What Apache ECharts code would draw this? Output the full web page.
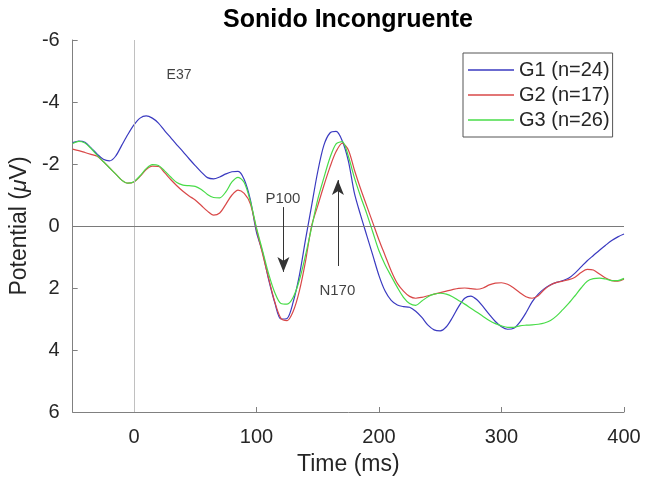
<!DOCTYPE html>
<html>
<head>
<meta charset="utf-8">
<script src="https://cdn.jsdelivr.net/npm/echarts@6/dist/echarts.min.js"></script>
<style>html,body{margin:0;padding:0;background:#fff}#c{width:648px;height:487px}</style>
</head>
<body>
<div id="c"></div>
<script>
// ---- data ----
const times = [-50,-45,-40,-35,-30,-25,-20,-15,-10,-5,
  0,5,10,15,20,25,30,35,40,45,
  50,55,60,65,70,75,80,85,90,95,
  100,105,110,115,120,125,130,135,140,145,
  150,155,160,165,170,175,180,185,190,195,
  200,205,210,215,220,225,230,235,240,245,
  250,255,260,265,270,275,280,285,290,295,
  300,305,310,315,320,325,330,335,340,345,
  350,355,360,365,370,375,380,385,390,395,
  400];
const g1 = [-2.69,-2.74,-2.70,-2.52,-2.32,-2.15,-2.10,-2.25,-2.60,-2.95,
  -3.26,-3.48,-3.55,-3.48,-3.32,-3.08,-2.85,-2.62,-2.40,-2.17,
  -1.95,-1.74,-1.56,-1.52,-1.58,-1.68,-1.75,-1.76,-1.50,-0.85,
  0.20,0.85,1.74,2.48,3.00,2.98,2.45,1.60,0.45,-0.65,
  -1.75,-2.60,-3.00,-3.05,-2.75,-2.10,-1.05,-0.35,0.30,0.95,
  1.60,2.10,2.40,2.55,2.60,2.62,2.75,2.95,3.20,3.35,
  3.38,3.25,2.95,2.60,2.33,2.26,2.38,2.60,2.85,3.08,
  3.25,3.33,3.30,3.10,2.80,2.45,2.20,2.02,1.90,1.82,
  1.76,1.68,1.52,1.32,1.12,0.95,0.78,0.62,0.47,0.35,
  0.26];
const g2 = [-2.48,-2.43,-2.37,-2.31,-2.25,-2.08,-1.88,-1.68,-1.48,-1.38,
  -1.42,-1.60,-1.82,-1.93,-1.92,-1.72,-1.50,-1.30,-1.12,-0.97,
  -0.84,-0.66,-0.48,-0.35,-0.42,-0.70,-1.00,-1.16,-1.05,-0.72,
  0.10,0.90,1.70,2.45,2.98,3.05,2.75,2.10,1.15,0.00,
  -0.65,-1.30,-1.90,-2.40,-2.67,-2.45,-1.80,-1.20,-0.65,-0.10,
  0.45,0.95,1.45,1.85,2.10,2.27,2.33,2.30,2.25,2.20,
  2.15,2.10,2.05,2.01,2.00,2.02,2.04,2.00,1.90,1.84,
  1.83,1.88,2.00,2.15,2.28,2.33,2.25,2.05,1.90,1.82,
  1.78,1.73,1.65,1.50,1.40,1.42,1.55,1.68,1.76,1.78,
  1.72];
const g3 = [-2.66,-2.73,-2.68,-2.50,-2.28,-2.08,-1.88,-1.68,-1.48,-1.38,
  -1.43,-1.62,-1.85,-1.98,-1.95,-1.78,-1.58,-1.40,-1.32,-1.30,
  -1.28,-1.18,-1.02,-0.92,-0.91,-1.10,-1.42,-1.57,-1.40,-0.80,
  0.05,0.80,1.55,2.15,2.50,2.52,2.30,1.75,0.95,0.05,
  -0.85,-1.55,-2.20,-2.65,-2.72,-2.25,-1.55,-0.95,-0.40,0.20,
  0.80,1.25,1.62,1.98,2.30,2.50,2.56,2.42,2.28,2.20,
  2.17,2.20,2.28,2.40,2.52,2.65,2.78,2.92,3.05,3.15,
  3.22,3.27,3.27,3.22,3.20,3.19,3.17,3.13,3.05,2.90,
  2.70,2.49,2.25,2.00,1.78,1.70,1.68,1.71,1.76,1.76,
  1.69];
const seriesNames = ['G1 (n=24)', 'G2 (n=17)', 'G3 (n=26)'];
const seriesValues = [g1, g2, g3];
const yTicks = [-6, -4, -2, 0, 2, 4, 6];
// annotations (data coordinates)
const noteTexts = ['E37', 'P100', 'N170'];
const noteX = [36.8, 121.6, 166.0];
const noteY = [-4.86, -0.87, 2.10];
const arrowX = [122, 166.5];
const arrowFrom = [-0.61, 1.29];
const arrowTo = [1.48, -1.48];

// ---- styles ----
const FONT = '"Liberation Sans", Arial, Helvetica, sans-serif';
const colors = ['#3a3ac0', '#d94848', '#48dc48'];
const textColor = '#262626';
const axisColor = '#808080';

const chart = echarts.init(document.getElementById('c'), null, {renderer: 'canvas'});

const lineSeries = seriesValues.map((vals, i) => ({
  type: 'line',
  name: seriesNames[i],
  data: times.map((t, j) => [t, vals[j]]),
  symbol: 'none',
  showSymbol: false,
  smooth: 0.3,
  lineStyle: {width: 1.2, color: colors[i]},
  itemStyle: {color: colors[i]},
  z: 3,
  animation: false
}));

lineSeries[0].markLine = {
  silent: true,
  symbol: ['none', 'none'],
  label: {show: false},
  animation: false,
  data: [
    {xAxis: 0, lineStyle: {color: '#c0c0c0', width: 1, type: 'solid'}},
    {yAxis: 0, lineStyle: {color: '#7a7a7a', width: 1.2, type: 'solid'}}
  ]
};

const noteSeries = {
  type: 'scatter',
  name: 'notes',
  silent: true,
  symbolSize: 0,
  animation: false,
  z: 5,
  data: noteTexts.map((txt, i) => ({
    value: [noteX[i], noteY[i]],
    label: {
      show: true, position: 'inside', formatter: txt,
      fontSize: i === 0 ? 14 : 15, color: '#111', fontFamily: FONT
    }
  })),
  markLine: {
    silent: true,
    animation: false,
    symbol: ['none', 'arrow'],
    symbolSize: [9, 15],
    label: {show: false},
    lineStyle: {color: '#333', width: 1, type: 'solid'},
    itemStyle: {color: '#111'},
    data: arrowX.map((x, i) => [
      {coord: [x, arrowFrom[i]]},
      {coord: [x, arrowTo[i]]}
    ])
  }
};

chart.setOption({
  backgroundColor: '#fff',
  animation: false,
  title: {
    text: 'Sonido Incongruente',
    left: 343, top: 3, textAlign: 'center',
    textStyle: {fontSize: 25, fontWeight: 'bold', color: '#000', fontFamily: FONT}
  },
  legend: {
    data: seriesNames,
    orient: 'vertical',
    left: 463, top: 53,
    icon: 'rect',
    itemWidth: 46, itemHeight: 1.5, itemGap: 3,
    padding: [6, 3, 6, 5],
    borderColor: '#555', borderWidth: 1,
    backgroundColor: '#fff',
    textStyle: {fontSize: 20, color: textColor, fontFamily: FONT, lineHeight: 22},
    selectedMode: false
  },
  grid: {left: 69, right: 24, top: 40, bottom: 75},
  xAxis: {
    type: 'value', min: -50, max: 400,
    name: 'Time (ms)', nameLocation: 'middle', nameGap: 41,
    nameTextStyle: {fontSize: 23, color: textColor, fontFamily: FONT},
    axisLine: {show: true, onZero: false, lineStyle: {color: axisColor, width: 1}},
    axisTick: {show: true, inside: true, length: 5, lineStyle: {color: axisColor}},
    axisLabel: {showMinLabel: false, fontSize: 20, color: textColor, margin: 15, fontFamily: FONT},
    splitLine: {show: false}
  },
  yAxis: {
    type: 'value', inverse: true, min: yTicks[0], max: yTicks[yTicks.length - 1], interval: 2,
    name: 'Potential ({i|μ}V)', nameLocation: 'middle', nameGap: 36, nameRotate: 90,
    nameTextStyle: {fontSize: 23, color: textColor, fontFamily: FONT,
      rich: {i: {fontSize: 23, fontStyle: 'italic', color: textColor, fontFamily: FONT}}},
    axisLine: {show: true, onZero: false, lineStyle: {color: axisColor, width: 1}},
    axisTick: {show: true, inside: true, length: 5, lineStyle: {color: axisColor}},
    axisLabel: {fontSize: 20, color: textColor, margin: 13, fontFamily: FONT},
    splitLine: {show: false}
  },
  series: [...lineSeries, noteSeries]
});
</script>
</body>
</html>
